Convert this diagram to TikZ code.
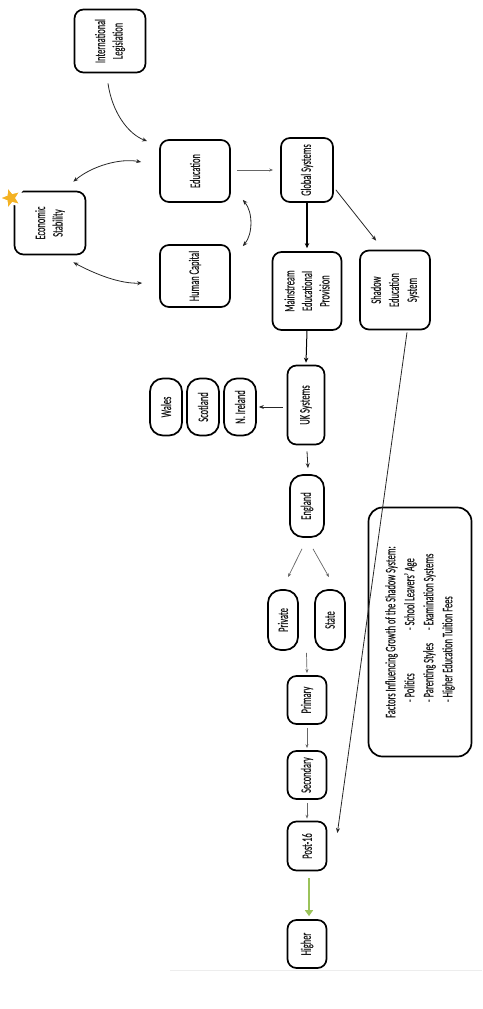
\documentclass[tikz,border=0pt]{standalone}
\usepackage{fontspec}
\newfontfamily\cond[FakeStretch=0.58,FakeBold=0.3]{Carlito}
\usetikzlibrary{shapes.geometric,arrows.meta,calc}
\definecolor{stargold}{HTML}{F4B223}
\definecolor{arrowgreen}{HTML}{9BC35A}
\begin{document}
\begin{tikzpicture}[x=1pt,y=-1pt,
  box/.style={draw=black, line width=1.7pt, rounded corners=9pt, rotate=90,
    align=center, inner sep=0pt, text=black!90,
    font=\cond\fontsize{14.5}{17.5}\selectfont},
  pill/.style={box, rounded corners=13pt},
  sz/.style 2 args={minimum height=#1, minimum width=#2},
  con/.style={draw=black!85, line width=0.8pt, -{Stealth[length=5pt,width=4pt]}},
  biarrow/.style={draw=black!85, line width=0.8pt, {Stealth[length=5pt,width=4pt]}-{Stealth[length=5pt,width=4pt]}},
  thin/.style={draw=black!60, line width=0.7pt, -{Stealth[length=4pt,width=3pt]}},
  greenarrow/.style={draw=arrowgreen, line width=2pt, -{Triangle[length=6pt,width=8pt]}}
]
\useasboundingbox (0,0) rectangle (482,1009);

% nodes
\node[box, sz={71}{63}] (intl) at (110,41) {International\\Legislation};
\node[box, sz={70}{62}] (edu) at (195,171) {Education};
\node[box, sz={70}{62}] (hc) at (195,276) {Human Capital};
\node[box, sz={71}{63}] (eco) at (50,223) {Economic\\Stability};
\node[star, star points=5, star point ratio=2.3, fill=stargold, draw=white,
      line width=2.5pt, minimum size=26pt, inner sep=0pt, shape border rotate=90]
      (star) at (11,198) {};
\node[box, sz={52}{64}] (glob) at (307,170) {Global Systems};
\node[box, sz={69}{78}] (main) at (307,291) {Mainstream\\Educational\\Provision};
\node[box, sz={70}{79}, font=\cond\fontsize{14.5}{18}\selectfont] (shadow) at (395,290) {Shadow\\Education\\System};
\node[box, sz={37}{79}] (uk) at (306,405) {UK Systems};
\node[pill, sz={32}{57}] (wales) at (166,407) {Wales};
\node[pill, sz={32}{57}] (scot) at (203,407) {Scotland};
\node[pill, sz={32}{57}] (nire) at (240,407) {N. Ireland};
\node[pill, sz={34}{62}] (eng) at (307,506) {England};
\node[pill, sz={30}{60}] (priv) at (283,620) {Private};
\node[pill, sz={30}{60}] (state) at (330,620) {State};
\node[box, sz={39}{48}] (prim) at (307,700) {Primary};
\node[box, sz={39}{48}] (sec) at (307,775) {Secondary};
\node[box, sz={39}{49}] (post) at (307,846) {Post-16};
\node[box, sz={39}{48}] (higher) at (307,944) {Higher};
\node[box, rounded corners=14pt, sz={103}{249}, align=left,
      font=\cond\fontsize{14.5}{19}\selectfont] (fac) at (420,632)
  {Factors Influencing Growth of the Shadow System:\\
   \hspace*{16pt}\makebox[72pt][l]{- Politics}- School Leavers’ Age\\
   \hspace*{16pt}\makebox[72pt][l]{- Parenting Styles}- Examination Systems\\
   \hspace*{16pt}- Higher Education Tuition Fees};

\coordinate (ps) at ($(priv.west)!0.5!(state.west)$);

% connectors
\draw[con] ($(intl.west)+(-2,10)$) .. controls (112,112) and (128,134) .. ($(edu.north east)+(-12,2)$);
\draw[biarrow] ($(edu.north)+(-18,-9)$) .. controls (120,158) and (92,166) .. ($(eco.south east)+(-13,-9)$);
\draw[biarrow] ($(eco.south west)+(-13,7)$) .. controls (95,274) and (120,284) .. ($(hc.north)+(-17,7)$);
\draw[biarrow] ($(edu.south west)+(12,-3)$) .. controls (253,212) and (253,234) .. ($(hc.south east)+(12,2)$);
\draw[thin] ($(edu.south)+(6,-1)$) -- ($(glob.north)+(-7,0)$);
\draw[draw=black, line width=1.1pt, -{Stealth[length=5pt,width=4.5pt]}] (glob.west) -- ($(main.east)+(0,-3)$);
\draw[con] ($(glob.south west)+(2,-13)$) -- ($(shadow.north east)+(17,-9)$);
\draw[draw=black, line width=1pt, -{Stealth[length=5pt,width=4.5pt]}] (main.west) -- ($(uk.east)+(0,-2)$);
\draw[con] ($(uk.north)+(-4,2)$) -- ($(nire.south)+(2,0)$);
\draw[con] ($(uk.west)+(1,6)$) -- ($(eng.east)+(1,-6)$);
\draw[thin] ($(eng.west)+(-5,11)$) -- ($(priv.east)+(5,-12)$);
\draw[thin] ($(eng.west)+(6,11)$) -- ($(state.east)+(-1,-12)$);
\draw[thin] ($(ps)+(0,2)$) -- ($(prim.east)+(0,-2)$);
\draw[thin] ($(prim.west)+(0,3)$) -- ($(sec.east)+(0,-2)$);
\draw[thin] ($(sec.west)+(0,3)$) -- ($(post.east)+(0,-2)$);
\draw[greenarrow] ($(post.west)+(2,7)$) -- ($(higher.east)+(2,-3)$);
\draw[con] ($(shadow.west)+(12,2)$) -- ($(post.south)+(10,-13)$);

% faint page edge
\draw[black!7, line width=1pt] (170,970) -- (482,970);
\end{tikzpicture}
\end{document}
